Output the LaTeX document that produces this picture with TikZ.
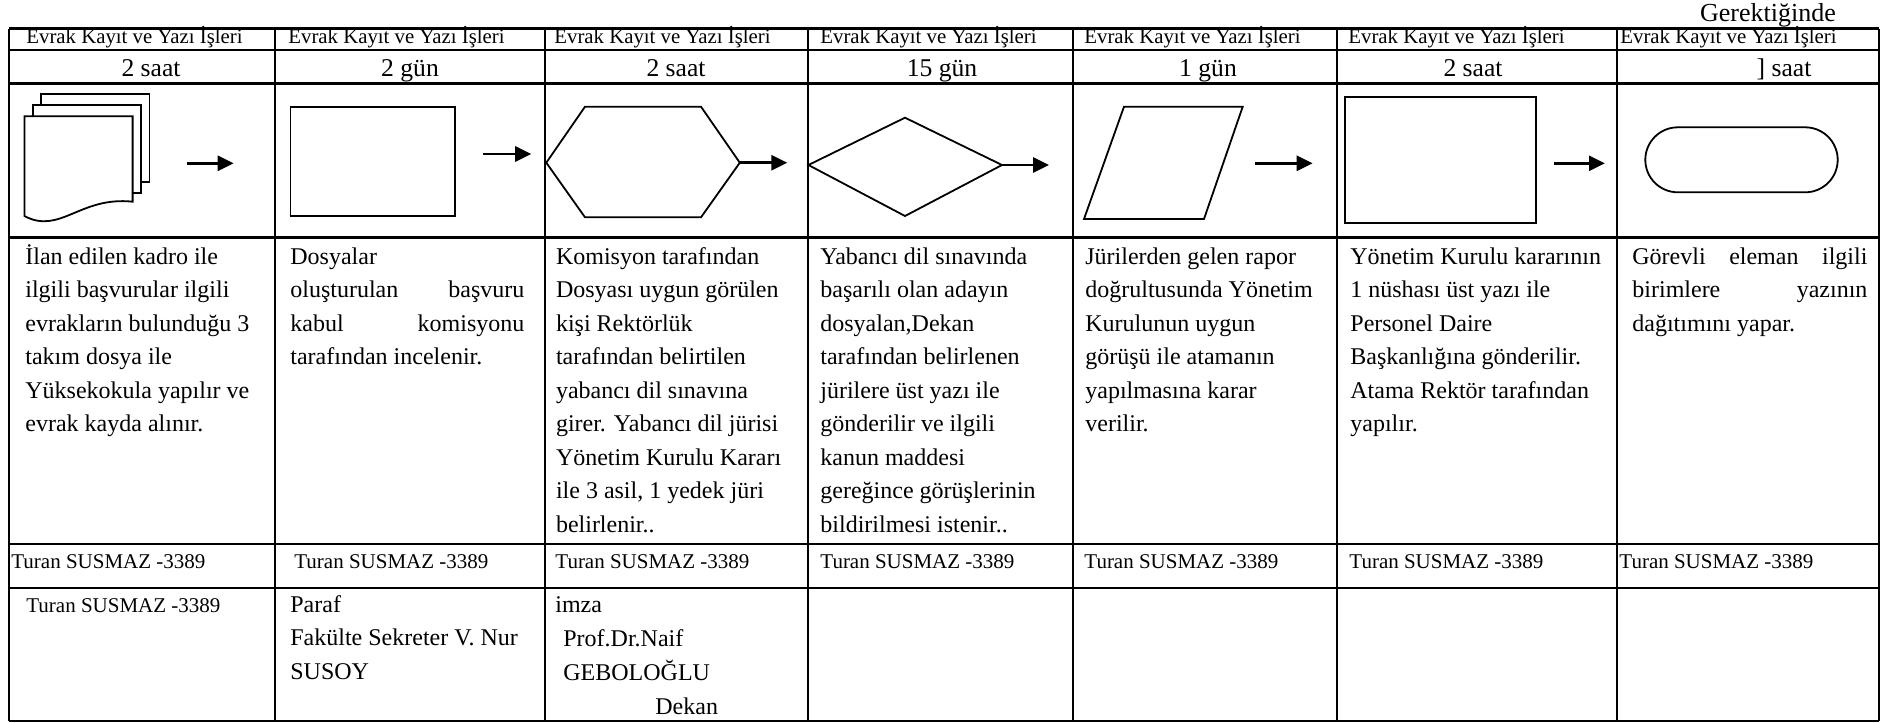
\documentclass[tikz,border=0pt]{standalone}
\usepackage{fontspec}
\setmainfont{Liberation Serif}
\usetikzlibrary{arrows.meta}
\begin{document}
\begin{tikzpicture}[x=0.5pt,y=-0.5pt,
  gridline/.style={line width=1.3pt},
  shp/.style={line width=0.9pt},
  flow/.style={line width=1.4pt,-{Triangle[length=8pt,width=7.5pt]}},
  hdr/.style={font=\fontsize{10.4}{12}\selectfont,inner sep=0pt,anchor=base west},
  dur/.style={font=\fontsize{12.8}{15}\selectfont,inner sep=0pt,anchor=base},
  desc/.style={font=\fontsize{12}{16.75}\selectfont,inner sep=0pt,anchor=north west,align=left},
  sig/.style={font=\fontsize{10.5}{12.5}\selectfont,inner sep=0pt,anchor=base west},
  sign/.style={font=\fontsize{12}{16.75}\selectfont,inner sep=0pt,anchor=base west},
]
\useasboundingbox (0,0) rectangle (1881,723);

% grid
\foreach \xx in {9,275,545,808,1073,1337,1617,1879}
  \draw[gridline] (\xx,28.5) -- (\xx,721);
\foreach \yy in {28.5,50,83.5,237.5,544,588,721}
  \draw[gridline] (9,\yy) -- (1879,\yy);

% top note
\node[font=\fontsize{13}{15}\selectfont,inner sep=0pt,anchor=base] (note) at (1768,21) {Gerektiğinde};

% header row
\node[hdr] (h1) at (26,43.5) {Evrak Kayıt ve Yazı İşleri};
\node[hdr] (h2) at (288,43.5) {Evrak Kayıt ve Yazı İşleri};
\node[hdr] (h3) at (554,43.5) {Evrak Kayıt ve Yazı İşleri};
\node[hdr] (h4) at (820,43.5) {Evrak Kayıt ve Yazı İşleri};
\node[hdr] (h5) at (1084,43.5) {Evrak Kayıt ve Yazı İşleri};
\node[hdr] (h6) at (1348,43.5) {Evrak Kayıt ve Yazı İşleri};
\node[hdr] (h7) at (1620,43.5) {Evrak Kayıt ve Yazı İşleri};

% duration row
\node[dur] (d1) at (151,76) {2 saat};
\node[dur] (d2) at (410,76) {2 gün};
\node[dur] (d3) at (676,76) {2 saat};
\node[dur] (d4) at (942,76) {15 gün};
\node[dur] (d5) at (1208,76) {1 gün};
\node[dur] (d6) at (1473,76) {2 saat};
\node[dur] (d7) at (1784,76) {] saat};

% shapes
\draw[shp,fill=white] (41.2,94.3) rectangle (149.4,181.7);
\draw[shp,fill=white] (32.8,105.3) rectangle (141,192.7);
\draw[shp,fill=white] (24.4,116.3) -- (132.6,116.3) -- (132.6,201.7)
  .. controls (80,196) and (60,235) .. (24.4,216) -- cycle;
\draw[shp] (290.4,106.7) rectangle (454.6,216);
\coordinate (hexR) at (739.8,162.7);
\draw[shp] (546.3,162.7) -- (585,106.7) -- (701,106.7) -- (hexR) -- (701,217.3) -- (585,217.3) -- cycle;
\coordinate (diaR) at (1002,165);
\draw[shp] (808.4,165) -- (905,117.7) -- (diaR) -- (905,216) -- cycle;
\draw[shp] (1124,106.7) -- (1242.7,106.7) -- (1204,219) -- (1084,219) -- cycle;
\draw[shp] (1345.2,96.7) rectangle (1536,223.3);
\draw[shp,rounded corners=16.25pt] (1645.3,127.3) rectangle (1837.7,192.3);

% arrows
\coordinate (a1s) at (186.5,163.3); \coordinate (a1e) at (233.6,163.3);
\coordinate (a2s) at (483.2,154);   \coordinate (a2e) at (531.2,154);
\coordinate (a3e) at (787.3,162.7);
\coordinate (a4e) at (1049,165);
\coordinate (a5s) at (1255.4,163.3); \coordinate (a5e) at (1312.6,163.3);
\coordinate (a6s) at (1554,163.3);   \coordinate (a6e) at (1605,163.3);
\draw[flow] (a1s) -- (a1e);
\draw[flow] (a2s) -- (a2e);
\draw[flow] (hexR) -- (a3e);
\draw[flow] (diaR) -- (a4e);
\draw[flow] (a5s) -- (a5e);
\draw[flow] (a6s) -- (a6e);

% descriptions
\node[desc] (p1) at (25,240.5) {\strut İlan edilen kadro ile\\ilgili başvurular ilgili\\evrakların bulunduğu 3\\takım dosya ile\\Yüksekokula yapılır ve\\evrak kayda alınır.};
\node[desc] (p2) at (290,240.5) {\strut Dosyalar\\\makebox[117pt][s]{oluşturulan başvuru}\\\makebox[117pt][s]{kabul komisyonu}\\tarafından incelenir.};
\node[desc] (p3) at (555.6,240.5) {\strut Komisyon tarafından\\Dosyası uygun görülen\\kişi Rektörlük\\tarafından belirtilen\\yabancı dil sınavına\\girer. Yabancı dil jürisi\\Yönetim Kurulu Kararı\\ile 3 asil, 1 yedek jüri\\belirlenir..};
\node[desc] (p4) at (820,240.5) {\strut Yabancı dil sınavında\\başarılı olan adayın\\dosyalan,Dekan\\tarafından belirlenen\\jürilere üst yazı ile\\gönderilir ve ilgili\\kanun maddesi\\gereğince görüşlerinin\\bildirilmesi istenir..};
\node[desc] (p5) at (1085,240.5) {\strut Jürilerden gelen rapor\\doğrultusunda Yönetim\\Kurulunun uygun\\görüşü ile atamanın\\yapılmasına karar\\verilir.};
\node[desc] (p6) at (1350,240.5) {\strut Yönetim Kurulu kararının\\1 nüshası üst yazı ile\\Personel Daire\\Başkanlığına gönderilir.\\Atama Rektör tarafından\\yapılır.};
\node[desc] (p7) at (1632,240.5) {\strut\makebox[117.5pt][s]{Görevli eleman ilgili}\\\makebox[117.5pt][s]{birimlere yazının}\\dağıtımını yapar.};

% responsible row
\node[sig] (t1) at (11,568) {Turan SUSMAZ -3389};
\node[sig] (t2) at (294,568) {Turan SUSMAZ -3389};
\node[sig] (t3) at (555,568) {Turan SUSMAZ -3389};
\node[sig] (t4) at (820,568) {Turan SUSMAZ -3389};
\node[sig] (t5) at (1084,568) {Turan SUSMAZ -3389};
\node[sig] (t6) at (1349,568) {Turan SUSMAZ -3389};
\node[sig] (t7) at (1619,568) {Turan SUSMAZ -3389};

% signature row
\node[sig] (s1) at (26,612) {Turan SUSMAZ -3389};
\node[desc] (s2) at (290,588.5) {\strut Paraf\\Fakülte Sekreter V. Nur\\SUSOY};
\node[sign] (s3a) at (555,612) {imza};
\node[sign] (s3b) at (563,646) {Prof.Dr.Naif};
\node[sign] (s3c) at (563,680) {GEBOLOĞLU};
\node[sign] (s3d) at (655,714) {Dekan};
\end{tikzpicture}
\end{document}
